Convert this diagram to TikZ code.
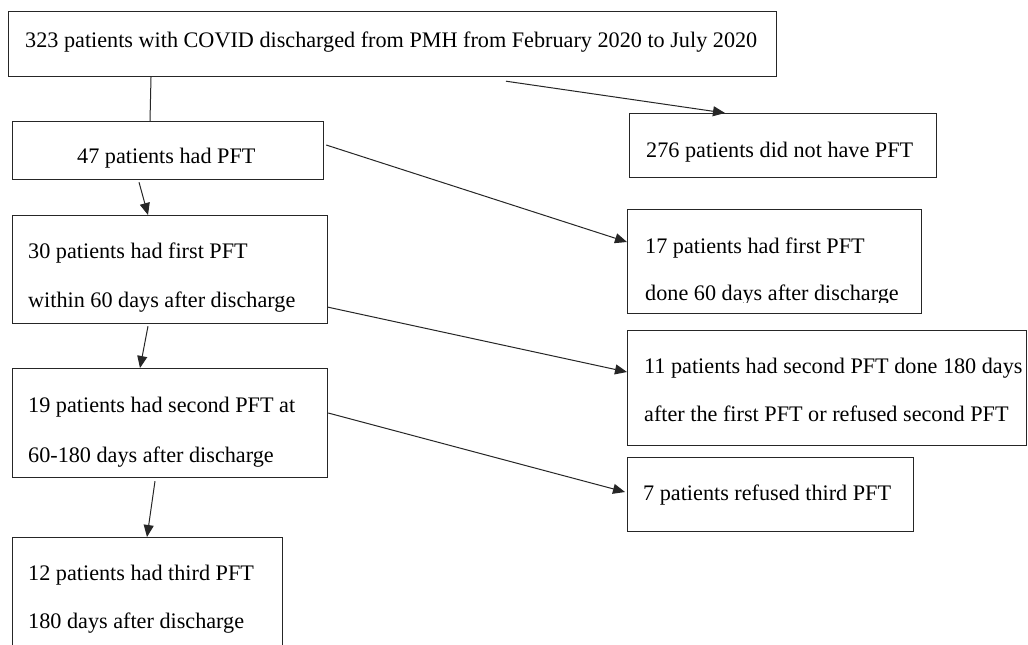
\documentclass[tikz,border=0pt]{standalone}
\usepackage{fontspec}
\setmainfont{Liberation Serif}
\newfontfamily\timesfont{Liberation Serif}
\usetikzlibrary{arrows.meta,calc}
\tikzset{
  box/.style={draw=black!85, line width=1.2pt, inner sep=0pt, anchor=north west, fill=none},
  txt/.style={anchor=base west, inner sep=0pt, font=\timesfont\fontsize{22.2}{26}\selectfont},
  conn/.style={draw=black!85, line width=1pt},
  arr/.style={conn, -{Triangle[length=12pt,width=10pt]}}
}
\begin{document}
\begin{tikzpicture}[x=1pt,y=-1pt]
\clip (0,0) rectangle (1028,645);
\fill[white] (0,0) rectangle (1028,645);
% boxes
\node[box, minimum width=768pt, minimum height=65pt] (b1) at (8,11) {};
\node[box, minimum width=311pt, minimum height=58pt] (b2) at (12,121) {};
\node[box, minimum width=315pt, minimum height=108pt] (b3) at (12,215) {};
\node[box, minimum width=315pt, minimum height=109pt] (b4) at (12,368) {};
\node[box, minimum width=270pt, minimum height=130pt] (b5) at (12,537) {};
\node[box, minimum width=307pt, minimum height=64pt] (r1) at (629,113) {};
\node[box, minimum width=294pt, minimum height=104pt] (r2) at (627,209) {};
\node[box, minimum width=399pt, minimum height=115pt] (r3) at (627,330) {};
\node[box, minimum width=286pt, minimum height=74pt] (r4) at (627,457) {};
% texts
\node[txt] (t1) at (25,47) {323 patients with COVID discharged from PMH from February 2020 to July 2020};
\node[txt] (t2) at (77,163) {47 patients had PFT};
\node[txt] (t3a) at (28,258) {30 patients had first PFT};
\node[txt] (t3b) at (28,307) {within 60 days after discharge};
\node[txt] (t4a) at (28,412) {19 patients had second PFT at};
\node[txt] (t4b) at (28,462) {60-180 days after discharge};
\node[txt] (t5a) at (28,580) {12 patients had third PFT};
\node[txt] (t5b) at (28,628) {180 days after discharge};
\node[txt] (u1) at (646,157) {276 patients did not have PFT};
\node[txt] (u2a) at (645,253) {17 patients had first PFT};
\begin{scope}
\clip (627,209) rectangle (921,302);
\node[txt] (u2b) at (645,300) {done 60 days after discharge};
\end{scope}
\node[txt] (u3a) at (644,373) {11 patients had second PFT done 180 days};
\node[txt] (u3b) at (644,421) {after the first PFT or refused second PFT};
\node[txt] (u4) at (643,500) {7 patients refused third PFT};
% connectors
\draw[conn] ($(b1.south west)+(143,0)$) -- ($(b2.north west)+(138,0)$);
\draw[arr] ($(b1.south west)+(498,4)$) -- ($(r1.north west)+(96,0)$);
\draw[arr] ($(b2.north east)+(2,24)$) -- ($(r2.north west)+(0,33)$);
\draw[arr] ($(b2.south west)+(127,2)$) -- ($(b3.north west)+(136,0)$);
\draw[arr] ($(b3.north east)+(-1,92)$) -- ($(r3.north west)+(0,42)$);
\draw[arr] ($(b3.south west)+(136,2)$) -- ($(b4.north west)+(128,0)$);
\draw[arr] ($(b4.north east)+(0,45)$) -- ($(r4.north west)+(-2,35)$);
\draw[arr] ($(b4.south west)+(143,3)$) -- ($(b5.north west)+(135,0)$);
\end{tikzpicture}
\end{document}
